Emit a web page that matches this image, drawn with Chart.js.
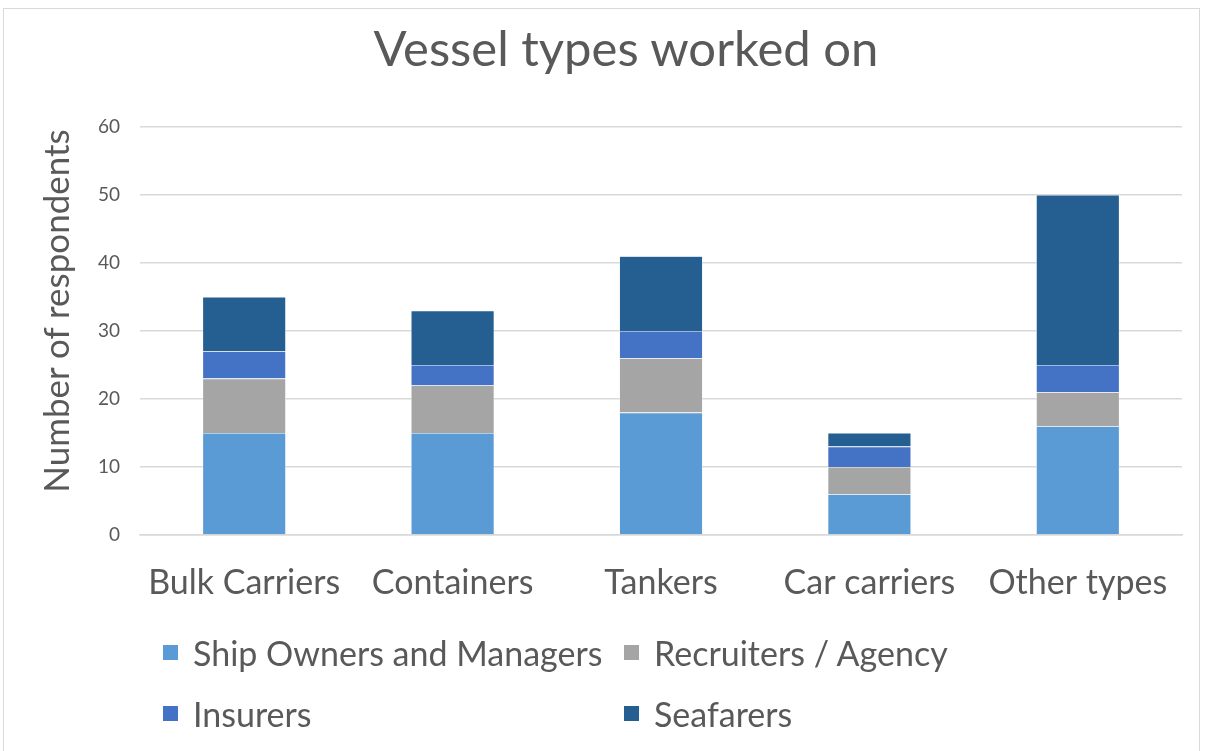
<!DOCTYPE html>
<html>
<head>
<meta charset="utf-8">
<script src="https://cdn.jsdelivr.net/npm/chart.js@4.4.1/dist/chart.umd.min.js"></script>
<style>
  html, body { margin: 0; padding: 0; background: #fff; }
  #wrap { position: relative; width: 1209px; height: 751px; font-family: Lato, sans-serif; color: #595959; }
  #frame { position: absolute; left: 3px; top: 8px; width: 1197px; height: 760px; border: 1.5px solid #d9d9d9; box-sizing: border-box; }
  #title { position: absolute; left: 0; width: 1252px; top: 18px; text-align: center; font-size: 49px; line-height: 58px; white-space: nowrap; }
  #ytitle { position: absolute; left: 55px; top: 311px; font-size: 35px; white-space: nowrap; transform: translate(-50%, -50%) rotate(-90deg); }
  .item { position: absolute; white-space: nowrap; display: flex; align-items: center; font-size: 34px; height: 44px; }
  .box { width: 15px; height: 15px; margin-right: 15px; }
</style>
</head>
<body>
<div id="wrap">
  <div id="frame"></div>
  <canvas id="chart" width="1209" height="751"></canvas>
  <div id="title">Vessel types worked on</div>
  <div id="ytitle">Number of respondents</div>
  <div id="legend"></div>
</div>
<script>
// categories and values
const categories = ['Bulk Carriers', 'Containers', 'Tankers', 'Car carriers', 'Other types'];
const shipOwners = [15, 15, 18, 6, 16];
const recruiters = [8, 7, 8, 4, 5];
const insurers = [4, 3, 4, 3, 4];
const seafarers = [8, 8, 11, 2, 25];
const seriesNames = ['Ship Owners and Managers', 'Recruiters / Agency', 'Insurers', 'Seafarers'];
const seriesColors = ['#5b9bd5', '#a5a5a5', '#4472c4', '#255e91'];
const yTicks = [0, 10, 20, 30, 40, 50, 60];

const seriesData = [shipOwners, recruiters, insurers, seafarers];

const chart = new Chart(document.getElementById('chart'), {
  type: 'bar',
  data: {
    labels: categories,
    datasets: seriesNames.map((name, i) => ({
      label: name,
      data: seriesData[i],
      backgroundColor: seriesColors[i],
      borderColor: '#ffffff',
      borderWidth: 0.6,
      barPercentage: 0.4,
      categoryPercentage: 1.0,
    })),
  },
  options: {
    responsive: false,
    animation: false,
    layout: { padding: { top: 127, right: 27, left: 20, bottom: 0 } },
    plugins: {
      title: { display: false },
      legend: { display: false },
      tooltip: { enabled: false },
    },
    scales: {
      x: {
        stacked: true,
        grid: { display: false, drawTicks: false },
        border: { color: '#d9d9d9', width: 1.5 },
        ticks: { color: '#595959', font: { family: 'Lato', size: 34 }, padding: 28 },
        afterFit: (scale) => { scale.height = 216; },
      },
      y: {
        stacked: true,
        min: 0,
        max: 60,
        afterBuildTicks: (scale) => { scale.ticks = yTicks.map(v => ({ value: v })); },
        grid: { color: '#d9d9d9', lineWidth: 1.5, drawTicks: false },
        border: { display: false },
        ticks: { color: '#595959', font: { family: 'Lato', size: 19 }, padding: 20 },
        afterFit: (scale) => { scale.width = 120; },
      },
    },
  },
});

// two-column legend like the reference
const legendPos = [[163, 652], [624, 652], [163, 713], [624, 713]];
const legendEl = document.getElementById('legend');
seriesNames.forEach((name, i) => {
  const item = document.createElement('div');
  item.className = 'item';
  item.style.left = legendPos[i][0] + 'px';
  item.style.top = (legendPos[i][1] - 22) + 'px';
  const box = document.createElement('span');
  box.className = 'box';
  box.style.background = seriesColors[i];
  const txt = document.createElement('span');
  txt.textContent = name;
  item.appendChild(box);
  item.appendChild(txt);
  legendEl.appendChild(item);
});
</script>
</body>
</html>
